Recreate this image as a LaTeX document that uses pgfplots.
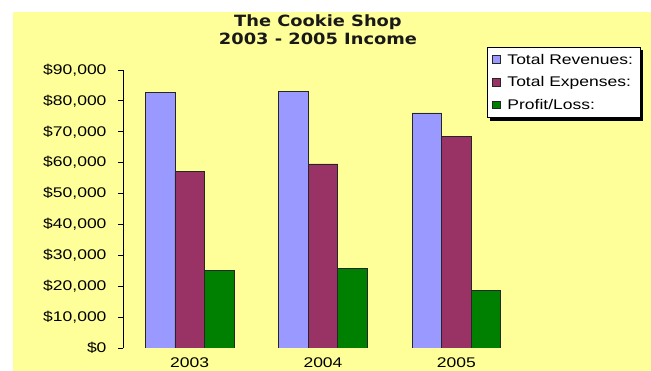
\documentclass[border=0pt]{standalone}
\usepackage{fontspec}
\setmainfont{Liberation Sans}[FakeStretch=1.25]
\newfontfamily\titlefont{DejaVu Sans}[FakeStretch=1.15]
\usepackage{pgfplots}
\pgfplotsset{compat=1.18}
\usetikzlibrary{backgrounds}
\definecolor{bgyellow}{RGB}{255,255,153}
\definecolor{revc}{RGB}{153,153,255}
\definecolor{expc}{RGB}{153,51,102}
\definecolor{proc}{RGB}{0,128,0}
\begin{document}
\begin{tikzpicture}
\useasboundingbox (0,0) rectangle (651bp,371bp);
\begin{axis}[
  at={(123bp,23bp)}, anchor=south west,
  scale only axis, width=400bp, height=278bp,
  ybar=0pt, bar width=29.5bp,
  xmin=-0.5, xmax=2.5, ymin=0, ymax=90000,
  xtick={0,1,2}, xticklabels={2003,2004,2005},
  ytick={0,10000,...,90000},
  scaled y ticks=false,
  yticklabel={\$\pgfmathprintnumber[fixed,precision=0,1000 sep={,}]{\tick}},
  /pgf/number format/assume math mode=true,
  axis lines*=left,
  x axis line style={draw=none},
  xtick style={draw=none},
  ytick style={black, line width=0.8bp},
  y axis line style={black, line width=0.8bp},
  tick align=outside, major tick length=5bp,
  ticklabel style={font=\fontsize{14bp}{16bp}\selectfont, text=black},
  yticklabel style={xshift=-8bp},
  xticklabel style={yshift=-2.5bp, inner ysep=2bp},
  legend style={name=leg, at={(0.91,1.0827)}, anchor=north west, draw=black, line width=0.8bp,
    fill=white,
    font=\fontsize{14bp}{16bp}\selectfont, legend cell align=left, row sep=7bp,
    inner xsep=5bp, inner ysep=4.5bp,
    /tikz/every odd column/.append style={column sep=5bp}},
  legend image code/.code={\draw[#1, line width=0.6bp] (0bp,-3.5bp) rectangle (7.5bp,4bp);},
]
\addplot[fill=revc, draw=black!85, line width=0.8bp] coordinates {(0,82650) (1,83200) (2,76080)};
\addplot[fill=expc, draw=black!85, line width=0.8bp] coordinates {(0,57100) (1,59570) (2,68400)};
\addplot[fill=proc, draw=black!85, line width=0.8bp] coordinates {(0,25250) (1,25800) (2,18550)};
\legend{Total Revenues:, Total Expenses:, Profit/Loss:}
\end{axis}
\begin{scope}[on background layer]
\fill[white] (0,0) rectangle (651bp,371bp);
\fill[bgyellow] (13bp,0) rectangle (651bp,359bp);
\fill[black] ([shift={(3bp,-3bp)}]leg.south west) rectangle ([shift={(3bp,-3bp)}]leg.north east);
\end{scope}
\node[font=\titlefont\bfseries\fontsize{15.5bp}{18.5bp}\selectfont, align=center, anchor=south, inner sep=0pt, text=black!90] at (318bp,326bp) {The Cookie Shop\\2003 - 2005 Income};
\end{tikzpicture}
\end{document}
